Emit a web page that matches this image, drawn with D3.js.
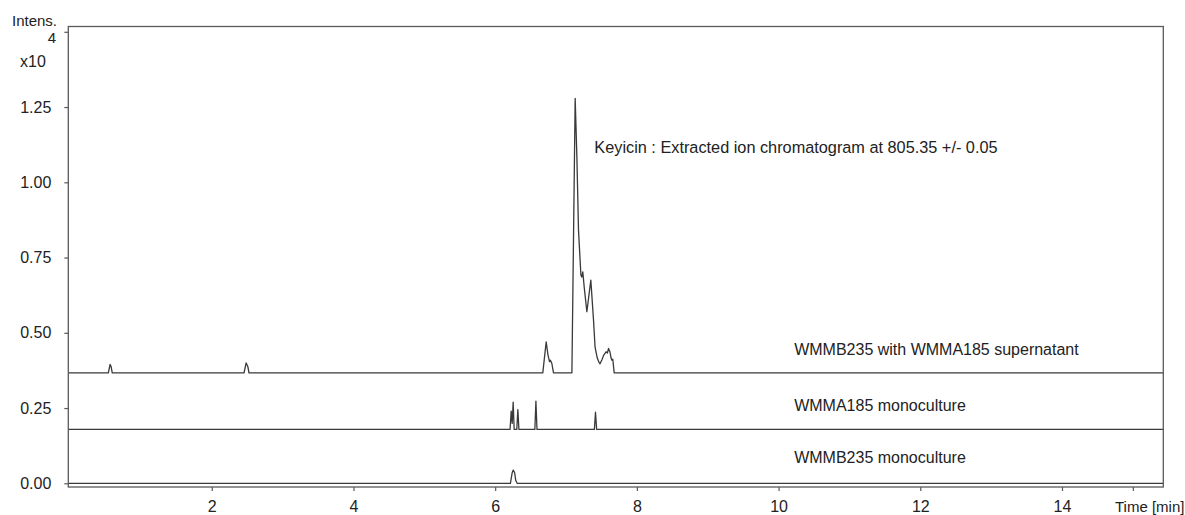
<!doctype html>
<meta charset="utf-8" />
<style>
    body { margin: 0; background: #fff; }
    text { font-family: "Liberation Sans", Arial, sans-serif; fill: #222; }
</style>
<svg></svg>

<script src="https://cdn.jsdelivr.net/npm/d3@7"></script>

<script>
    // retention time (min) / intensity (x10^4) above each trace's baseline
    var mixTime = [-0.025, 0.54, 0.565, 0.58, 0.595, 2.455, 2.485, 2.51, 2.525,
        6.672, 6.72, 6.745, 6.767, 6.78, 6.80, 6.823, 7.083, 7.129, 7.153, 7.176, 7.21, 7.222, 7.237,
        7.256, 7.294, 7.35, 7.388, 7.41, 7.44, 7.465, 7.48, 7.51, 7.53, 7.565, 7.585, 7.60, 7.62, 7.635, 7.647, 7.66, 7.68, 15.43];
    var mixIntens = [0, 0, 0.028, 0.02, 0, 0, 0.033, 0.02, 0,
        0, 0.103, 0.06, 0.037, 0.042, 0.031, 0, 0, 0.912, 0.72, 0.474, 0.325, 0.318, 0.335,
        0.286, 0.203, 0.308, 0.175, 0.085, 0.05, 0.035, 0.03, 0.045, 0.058, 0.07, 0.066, 0.081, 0.07, 0.05, 0.042, 0.045, 0, 0];

    var a185Time = [-0.025, 6.21, 6.226, 6.24, 6.254, 6.268, 6.305, 6.32, 6.335,
        6.56, 6.575, 6.59, 7.40, 7.416, 7.432, 15.43];
    var a185Intens = [0, 0, 0.061, 0.02, 0.091, 0, 0, 0.066, 0,
        0, 0.094, 0, 0, 0.057, 0, 0];

    var b235Time = [-0.025, 6.215, 6.24, 6.255, 6.275, 6.29, 6.31, 15.43];
    var b235Intens = [0, 0, 0.035, 0.044, 0.035, 0.01, 0, 0];

    var traceNames = ['WMMB235 with WMMA185 supernatant', 'WMMA185 monoculture', 'WMMB235 monoculture'];
    var traceOffsets = [0.367, 0.179, 0];
    var labelValues = [0.425, 0.240, 0.068];

    var yTicks = [0, 0.25, 0.5, 0.75, 1.0, 1.25, 1.5];
    var xTicks = [2, 4, 6, 8, 10, 12, 14, 15];

    var W = 1185, H = 515;
    var svg = d3.select('svg')
        .attr('width', W)
        .attr('height', H)

    var x = d3.scaleLinear().domain([-0.025, 15.43]).range([68.3, 1163.3]);
    var y = d3.scaleLinear().domain([-0.0123, 1.5176]).range([487, 26.5]);

    var traces = [
        { time: mixTime, intens: mixIntens },
        { time: a185Time, intens: a185Intens },
        { time: b235Time, intens: b235Intens }
    ];

    var line = d3.line()
        .x(function (d) { return x(d[0]); })
        .y(function (d) { return y(d[1]); });

    traces.forEach(function (tr, i) {
        var pts = tr.time.map(function (t, j) { return [t, tr.intens[j] + traceOffsets[i]]; });
        svg.append('path')
            .attr('d', line(pts))
            .style('fill', 'none')
            .style('stroke', '#3a3a3a')
            .style('stroke-width', 1.3)
            .style('stroke-linejoin', 'round');

        svg.append('text')
            .attr('x', x(10.22))
            .attr('y', y(labelValues[i]))
            .style('font-size', '16px')
            .text(traceNames[i]);
    });

    // frame
    svg.append('rect')
        .attr('x', x.range()[0])
        .attr('y', y.range()[1])
        .attr('width', x.range()[1] - x.range()[0])
        .attr('height', y.range()[0] - y.range()[1])
        .style('fill', 'none')
        .style('stroke', '#5a5a5a')
        .style('stroke-width', 1.3);

    var yAxis = svg.append('g')
        .attr('transform', 'translate(' + x.range()[0] + ',0)')
        .call(d3.axisLeft(y).tickValues(yTicks).tickSize(4).tickPadding(13)
            .tickFormat(function (d) { return d === 1.5 ? '' : d3.format('.2f')(d); }));

    var xAxis = svg.append('g')
        .attr('transform', 'translate(0,' + y.range()[0] + ')')
        .call(d3.axisBottom(x).tickValues(xTicks).tickSize(4).tickPadding(10)
            .tickFormat(function (d) { return d === 15 ? '' : d; }));

    [yAxis, xAxis].forEach(function (g) {
        g.select('.domain').remove();
        g.selectAll('line').style('stroke', '#5a5a5a').style('stroke-width', 1.2);
        g.selectAll('text')
            .style('font-family', '"Liberation Sans", Arial, sans-serif')
            .style('font-size', '16px')
            .style('fill', '#222');
    });

    svg.append('text')
        .attr('x', 1115)
        .attr('y', 512)
        .style('font-size', '15px')
        .text('Time [min]');

    svg.append('text')
        .attr('x', 12)
        .attr('y', 26)
        .style('font-size', '15px')
        .text('Intens.');

    svg.append('text')
        .attr('x', 20)
        .attr('y', 66.5)
        .style('font-size', '16px')
        .text('x10');
    svg.append('text')
        .attr('x', 56)
        .attr('y', 42.5)
        .attr('text-anchor', 'end')
        .style('font-size', '15px')
        .text('4');

    svg.append('text')
        .attr('x', x(7.40))
        .attr('y', y(1.096))
        .style('font-size', '16.3px')
        .text('Keyicin : Extracted ion chromatogram at 805.35 +/- 0.05');
</script>
